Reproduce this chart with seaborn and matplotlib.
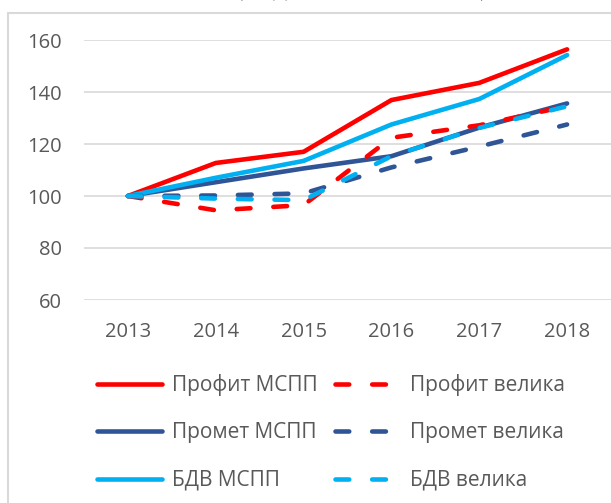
import numpy as np
import pandas as pd
import matplotlib.pyplot as plt
import seaborn as sns
from matplotlib.patches import Rectangle

# data (2013 = 100)
years = [2013, 2014, 2015, 2016, 2017, 2018]
profit_mspp = [100, 112.7, 117.0, 136.9, 143.5, 156.4]
promet_mspp = [100, 105.3, 110.6, 115.3, 126.3, 135.6]
bdv_mspp = [100, 107.0, 113.5, 127.5, 137.3, 154.2]
profit_velika = [100, 94.5, 96.5, 122.4, 127.2, 134.6]
promet_velika = [100, 100.2, 101.0, 111.0, 119.0, 127.5]
bdv_velika = [100, 99.0, 98.4, 115.3, 126.2, 134.5]

series = [
    ("Профит МСПП", profit_mspp, "#FF0000", "solid"),
    ("Промет МСПП", promet_mspp, "#2F5597", "solid"),
    ("БДВ МСПП", bdv_mspp, "#00B0F0", "solid"),
    ("Профит велика", profit_velika, "#FF0000", "dashed"),
    ("Промет велика", promet_velika, "#2F5597", "dashed"),
    ("БДВ велика", bdv_velika, "#00B0F0", "dashed"),
]

sns.set_style("white")
plt.rcParams['font.family'] = ['Open Sans', 'DejaVu Sans']

fig = plt.figure(figsize=(6.11, 5.03), dpi=100)

# outer frame of the chart area
fig.patches.append(Rectangle((8/611, -0.2), 1.2, 1.2 - 13/503, transform=fig.transFigure,
                             fill=False, edgecolor="#D9D9D9", linewidth=1.5))

# title, almost entirely cut off at the top edge
fig.text(362/611, 1 + 5/503, "(индекси, 2013 = 100)", ha="center", va="baseline",
         fontsize=20, color="#404040", family="Liberation Serif")

ax = fig.add_axes([84/611, 1 - 300/503, 1 - 84/611, 260/503])

lw = 3.3
for name, vals, color, style in series:
    df = pd.DataFrame({"year": years, "value": vals})
    sns.lineplot(data=df, x="year", y="value", ax=ax, color=color, linewidth=lw,
                 label=name, zorder=3)
    line = ax.lines[-1]
    if style == "dashed":
        line.set_dashes((3, 5))
    line.set_dash_capstyle("round")
    line.set_solid_capstyle("round")
    line.set_solid_joinstyle("round")

ax.set_xlim(2012.5, 2018.5)
ax.set_ylim(60, 160)
ax.set_xticks(years)
ax.set_yticks(range(60, 161, 20))
ax.set_xlabel("")
ax.set_ylabel("")
ax.grid(axis="y", color="#D9D9D9", linewidth=1.2)
ax.set_axisbelow(True)
for s in ax.spines.values():
    s.set_visible(False)
ax.tick_params(axis="both", length=0, labelsize=14.5, labelcolor="#595959")
ax.tick_params(axis="y", pad=16)
ax.tick_params(axis="x", pad=16)

handles, labels = ax.get_legend_handles_labels()
leg = ax.legend(handles, labels, ncol=2, frameon=False, fontsize=15,
                loc="upper left", bbox_to_anchor=(97/611, 1 - 374/503),
                bbox_transform=fig.transFigure, borderpad=0, borderaxespad=0,
                handlelength=3.1, handletextpad=0.5, columnspacing=0.85,
                labelspacing=1.27)
for t in leg.get_texts():
    t.set_color("#595959")

fig.savefig("out.png", dpi=100)
